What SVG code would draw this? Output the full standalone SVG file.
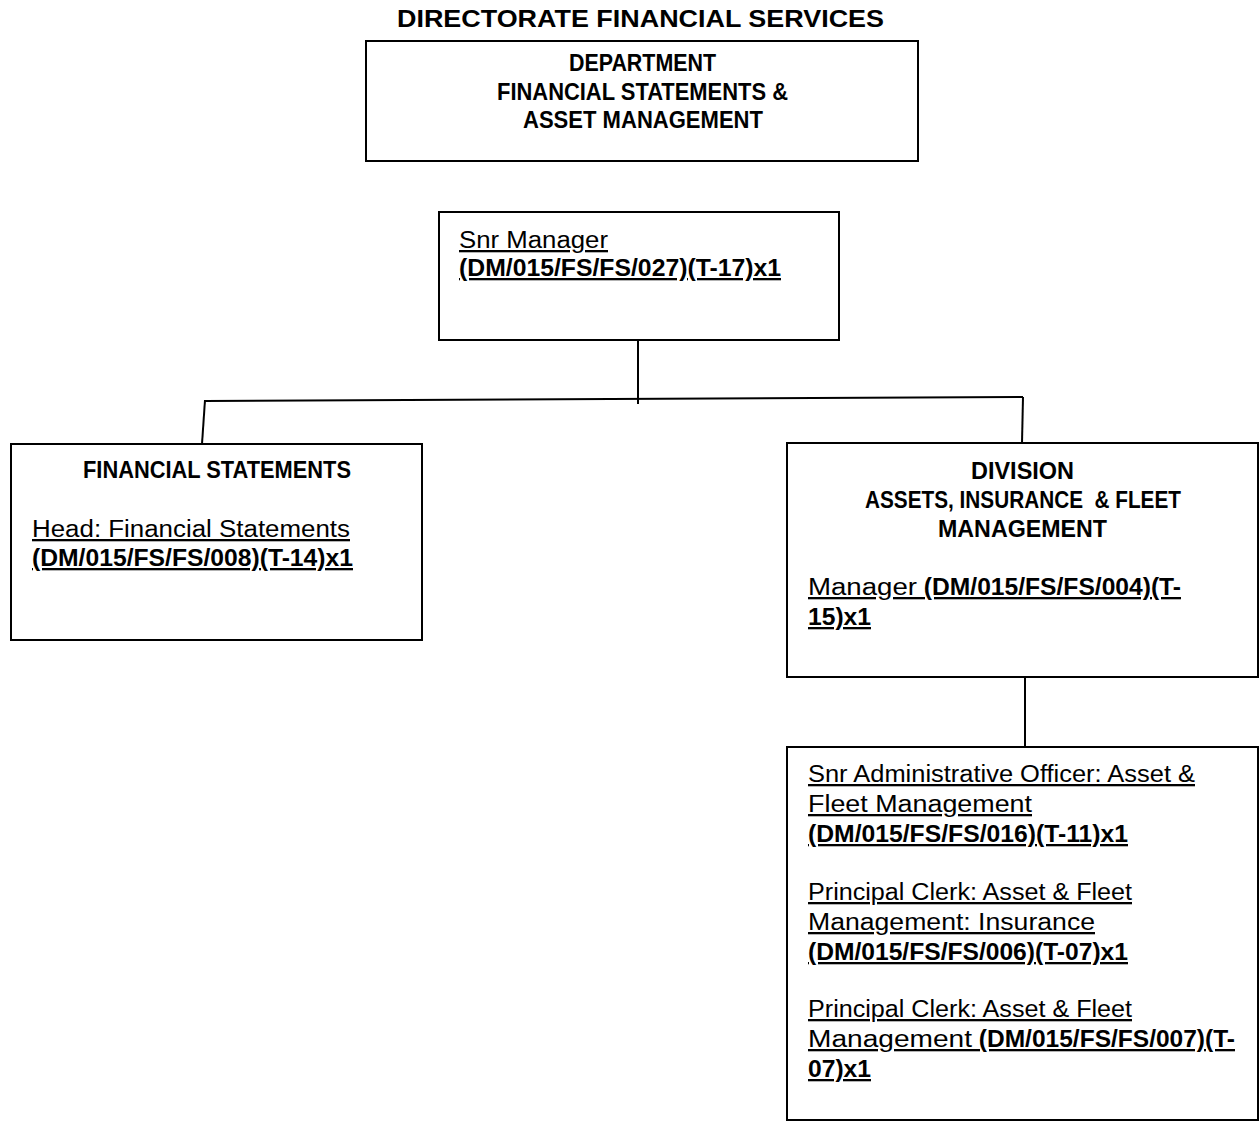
<svg xmlns="http://www.w3.org/2000/svg" width="1259" height="1122" viewBox="0 0 1259 1122">
<style>
.box{fill:#fff;stroke:#000;stroke-width:2}
.con line{stroke:#000;stroke-width:2}
text{font-family:"Liberation Sans",Arial,sans-serif;font-size:23px;fill:#000}
.b{font-weight:bold}
.u{text-decoration:underline}
</style>
<rect width="1259" height="1122" fill="#fff"/>
<text id="title" class="b" x="397" y="27" font-size="26" textLength="487" lengthAdjust="spacingAndGlyphs">DIRECTORATE FINANCIAL SERVICES</text>
<g id="connectors" class="con">
<line x1="638" y1="340" x2="638" y2="404"/>
<line x1="205" y1="401" x2="1023" y2="397"/>
<line x1="205" y1="400" x2="202" y2="444"/>
<line x1="1023" y1="397" x2="1022" y2="443"/>
<line x1="1025" y1="677" x2="1025" y2="747"/>
</g>
<g id="department">
<rect class="box" x="366" y="41" width="552" height="120"/>
<text class="b" x="569" y="71" textLength="147" lengthAdjust="spacingAndGlyphs">DEPARTMENT</text>
<text class="b" x="497" y="100" textLength="291" lengthAdjust="spacingAndGlyphs">FINANCIAL STATEMENTS &amp;</text>
<text class="b" x="523" y="128" textLength="240" lengthAdjust="spacingAndGlyphs">ASSET MANAGEMENT</text>
</g>
<g id="snr-manager">
<rect class="box" x="439" y="212" width="400" height="128"/>
<text class="u" x="459" y="248" textLength="149" lengthAdjust="spacingAndGlyphs">Snr Manager</text>
<text class="b u" x="459" y="276" textLength="322" lengthAdjust="spacingAndGlyphs">(DM/015/FS/FS/027)(T-17)x1</text>
</g>
<g id="financial-statements">
<rect class="box" x="11" y="444" width="411" height="196"/>
<text class="b" x="83" y="478" textLength="268" lengthAdjust="spacingAndGlyphs">FINANCIAL STATEMENTS</text>
<text class="u" x="32" y="537" textLength="318" lengthAdjust="spacingAndGlyphs">Head: Financial Statements</text>
<text class="b u" x="32" y="566" textLength="321" lengthAdjust="spacingAndGlyphs">(DM/015/FS/FS/008)(T-14)x1</text>
</g>
<g id="division">
<rect class="box" x="787" y="443" width="471" height="234"/>
<text class="b" x="971" y="479" textLength="103" lengthAdjust="spacingAndGlyphs">DIVISION</text>
<text class="b" x="865" y="508" textLength="316" lengthAdjust="spacingAndGlyphs" xml:space="preserve">ASSETS, INSURANCE  &amp; FLEET</text>
<text class="b" x="938" y="537" textLength="169" lengthAdjust="spacingAndGlyphs">MANAGEMENT</text>
<text class="u" x="808" y="595" textLength="109" lengthAdjust="spacingAndGlyphs">Manager</text>
<text class="b u" x="917" y="595" textLength="264" lengthAdjust="spacingAndGlyphs" xml:space="preserve"> (DM/015/FS/FS/004)(T-</text>
<text class="b u" x="808" y="625" textLength="63" lengthAdjust="spacingAndGlyphs">15)x1</text>
</g>
<g id="asset-fleet-staff">
<rect class="box" x="787" y="747" width="471" height="373"/>
<text class="u" x="808" y="782" textLength="387" lengthAdjust="spacingAndGlyphs">Snr Administrative Officer: Asset &amp;</text>
<text class="u" x="808" y="812" textLength="224" lengthAdjust="spacingAndGlyphs">Fleet Management</text>
<text class="b u" x="808" y="842" textLength="320" lengthAdjust="spacingAndGlyphs">(DM/015/FS/FS/016)(T-11)x1</text>
<text class="u" x="808" y="900" textLength="324" lengthAdjust="spacingAndGlyphs">Principal Clerk: Asset &amp; Fleet</text>
<text class="u" x="808" y="930" textLength="287" lengthAdjust="spacingAndGlyphs">Management: Insurance</text>
<text class="b u" x="808" y="960" textLength="320" lengthAdjust="spacingAndGlyphs">(DM/015/FS/FS/006)(T-07)x1</text>
<text class="u" x="808" y="1017" textLength="324" lengthAdjust="spacingAndGlyphs">Principal Clerk: Asset &amp; Fleet</text>
<text class="u" x="808" y="1047" textLength="164" lengthAdjust="spacingAndGlyphs">Management</text>
<text class="b u" x="972" y="1047" textLength="263" lengthAdjust="spacingAndGlyphs" xml:space="preserve"> (DM/015/FS/FS/007)(T-</text>
<text class="b u" x="808" y="1077" textLength="63" lengthAdjust="spacingAndGlyphs">07)x1</text>
</g>
</svg>
